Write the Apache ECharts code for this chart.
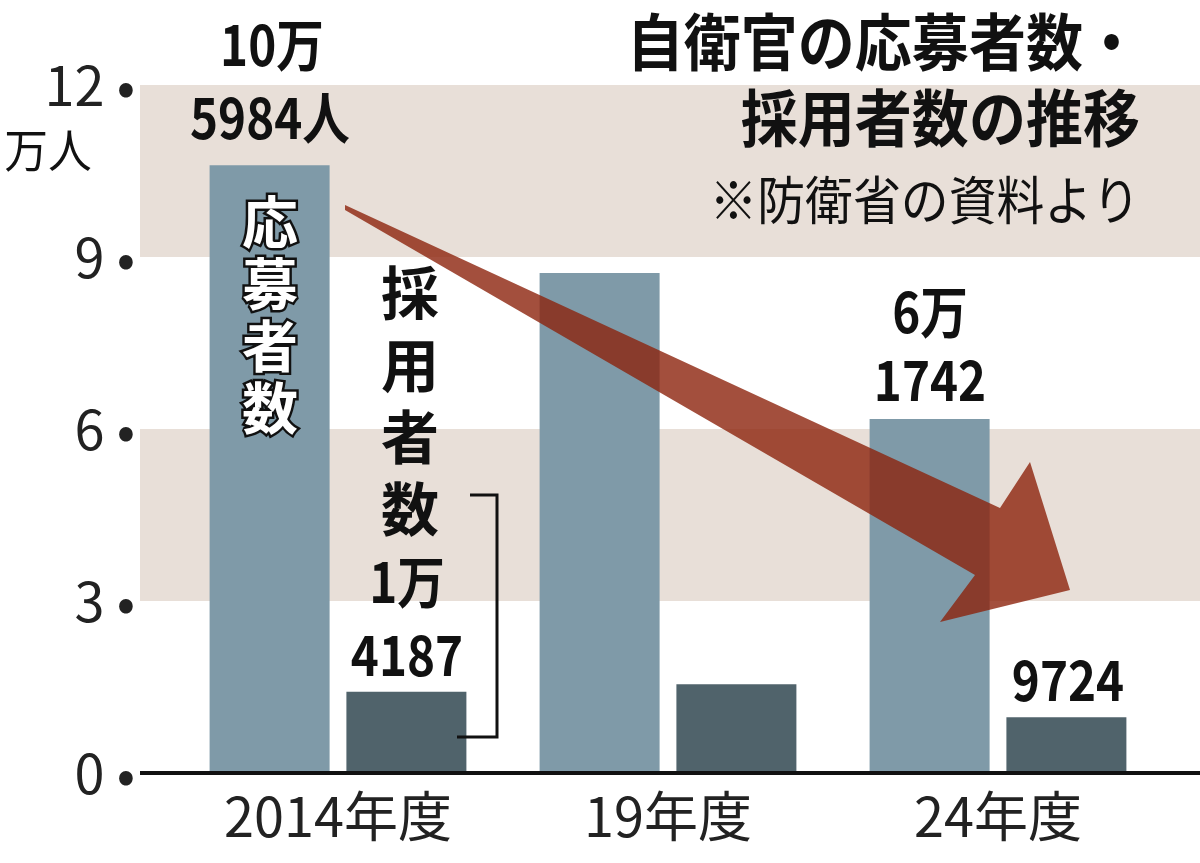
<!DOCTYPE html>
<html><head><meta charset="utf-8">
<script src="https://cdn.jsdelivr.net/npm/echarts@6/dist/echarts.min.js"></script>
<style>html,body{margin:0;padding:0;background:#fff}#c{width:1200px;height:863px}</style>
</head><body><div id="c"></div>
<script>
const categories = ['2014年度', '19年度', '24年度'];
const applicants = [10.5984, 8.72, 6.1742];
const hires = [1.4187, 1.55, 0.9724];
const yTicks = [0, 3, 6, 9, 12];
const bands = [[3, 6], [9, 12]];

const F = '"Noto Sans CJK JP", sans-serif';
const chart = echarts.init(document.getElementById('c'));
chart.setOption({
  animation: false,
  grid: { left: 173, right: 37, top: 85, bottom: 90 },
  xAxis: {
    type: 'category', data: categories,
    axisLine: { show: false }, axisTick: { show: false },
    axisLabel: { fontSize: 54, color: '#222', fontFamily: F, margin: 16 }
  },
  yAxis: {
    type: 'value', min: 0, max: 12, interval: 3,
    splitLine: { show: false }, axisLine: { show: false }, axisTick: { show: false },
    axisLabel: { fontSize: 54, color: '#222', fontFamily: F, margin: 38,
      formatter: v => yTicks.includes(v) ? v + ' •' : '' }
  },
  series: [
    { type: 'bar', data: applicants, barWidth: 120, barGap: '14%', itemStyle: { color: '#7f9aa8' }, z: 3 },
    { type: 'bar', data: hires, barWidth: 120, itemStyle: { color: '#50636b' }, z: 3 }
  ]
});

const y = v => chart.convertToPixel({ yAxisIndex: 0 }, v);
const g = [];
bands.forEach(b => {
  const y1 = y(b[1]), y0 = y(b[0]);
  g.push({ type: 'rect', shape: { x: 140, y: y1, width: 1060, height: y0 - y1 }, style: { fill: '#e8dfd8' }, z: -10 });
});
g.push({ type: 'line', shape: { x1: 140, y1: y(0), x2: 1200, y2: y(0) }, style: { stroke: '#111', lineWidth: 4 }, z: 10 });
g.push({ type: 'polygon', shape: { points: [[345, 205], [1000, 508], [1030, 462], [1070, 590], [940, 622], [975, 575], [345, 210]] },
  style: { fill: 'rgba(140,35,12,0.8)' }, z: 20 });
const T = (x, yy, text, size, opts, sx) => g.push(Object.assign({ type: 'text', x: x, y: yy, z: 30, scaleX: sx || 0.85,
  style: Object.assign({ text: text, font: 'bold ' + size + 'px ' + F, fill: '#111', align: 'center', verticalAlign: 'middle' }, opts || {}) }));
T(1140, 42, '自衛官の応募者数・', 62, { align: 'right' }, 0.92);
T(1140, 118, '採用者数の推移', 62, { align: 'right' }, 0.92);
T(1140, 200, '※防衛省の資料より', 52, { align: 'right', font: '52px ' + F }, 0.92);
T(48, 150, '万人', 46, { font: '46px ' + F }, 0.95);
T(272, 45, '10万', 56);
T(270, 118, '5984人', 56);
['応', '募', '者', '数'].forEach((c, i) => T(270, 222 + i * 62, c, 56, { fill: '#fff', stroke: '#111', lineWidth: 5 }, 1));
['採', '用', '者', '数'].forEach((c, i) => T(410, 293 + i * 72, c, 58, {}, 1));
T(407, 582, '1万', 56);
T(407, 655, '4187', 56);
T(930, 312, '6万', 56);
T(930, 380, '1742', 56);
T(1068, 680, '9724', 56);
g.push({ type: 'polyline', shape: { points: [[470, 495], [497, 495], [497, 737], [457, 737]] }, style: { stroke: '#111', lineWidth: 3, fill: null }, z: 30 });
chart.setOption({ graphic: g });
</script></body></html>
